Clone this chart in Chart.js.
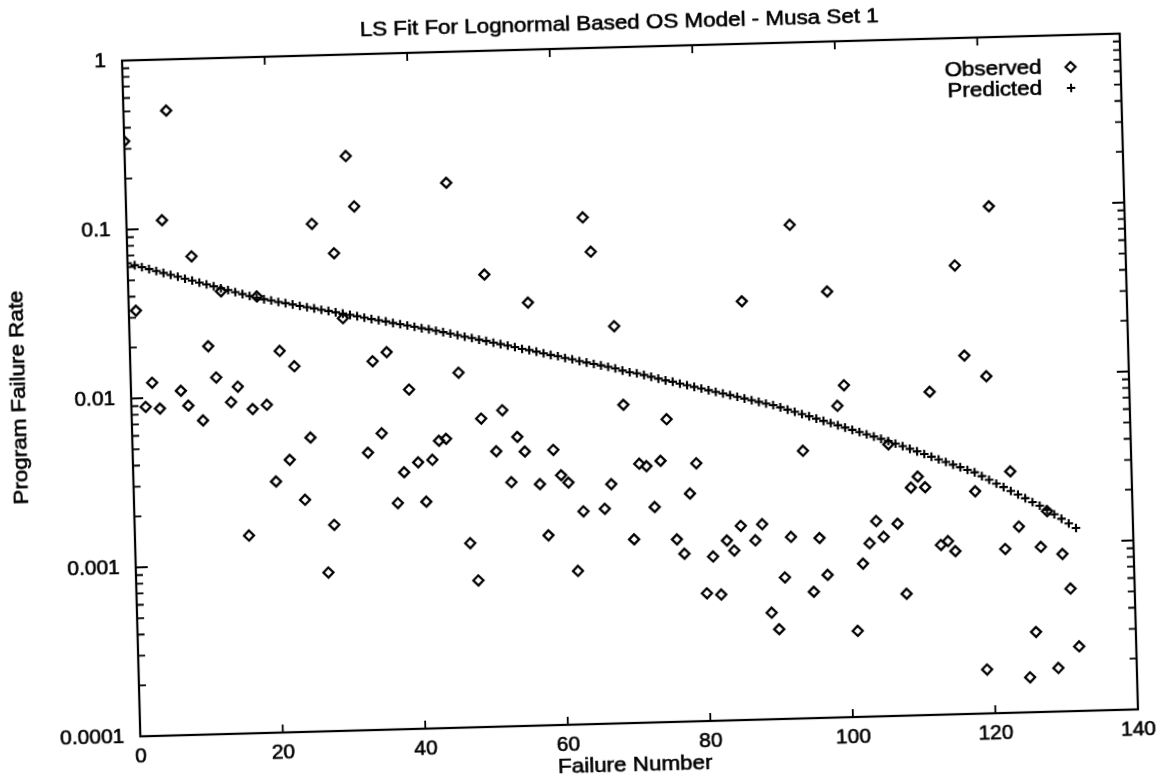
<!DOCTYPE html>
<html>
<head>
<meta charset="utf-8">
<script src="https://cdn.jsdelivr.net/npm/chart.js@4.4.1/dist/chart.umd.min.js"></script>
<style>
html, body { margin: 0; padding: 0; background: #ffffff; overflow: hidden; }
#wrap { position: absolute; left: 0; top: 0; width: 1165px; height: 781px;
        transform: rotate(-1.55deg); transform-origin: 630px 385px; }
canvas { display: block; }
</style>
</head>
<body>
<div id="wrap"><canvas id="c" width="1165" height="781"></canvas></div>
<script>
// ---- data ----
const failureNumbers = [
  0,1,2,3,4,5,6,7,8,9,10,11,12,13,14,15,16,17,18,19,
  20,21,22,23,24,25,26,27,28,29,30,31,32,33,34,35,36,37,38,39,
  40,41,42,43,44,45,46,47,48,49,50,51,52,53,54,55,56,57,58,59,
  60,61,62,63,64,65,66,67,68,69,70,71,72,73,74,75,76,77,78,79,
  80,81,82,83,84,85,86,87,88,89,90,91,92,93,94,95,96,97,98,99,
  100,101,102,103,104,105,106,107,108,109,110,111,112,113,114,115,116,117,118,119,
  120,121,122,123,124,125,126,127,128,129,130,131,132
];
const observedRate = [
  0.333,0.033,0.00887,0.0123,0.00863,0.112,0.498,0.0109,0.00889,0.0678,
  0.00722,0.0198,0.0129,0.0416,0.00918,0.0113,0.00148,0.00828,0.0383,0.00873,
  0.00306,0.0181,0.00409,0.0146,0.00236,0.0055,0.101,0.000869,0.00166,0.0671,
  0.0276,0.251,0.126,0.00438,0.0152,0.00568,0.0171,0.00218,0.00331,0.0102,
  0.00377,0.0022,0.00388,0.00502,0.00514,0.168,0.0126,0.00123,0.000738,0.00669,
  0.0475,0.00426,0.00743,0.00278,0.00514,0.0042,0.0319,0.00268,0.00133,0.00425,
  0.003,0.00271,0.00081,0.00182,0.0997,0.0623,0.00187,0.00261,0.0224,0.00766,
  0.00122,0.00341,0.00329,0.00188,0.00352,0.00619,0.0012,0.000984,0.00223,0.00336,
  0.00057,0.000938,0.000557,0.00116,0.00101,0.00141,0.03,0.00115,0.00143,0.000427,
  0.00034,0.000687,0.00119,0.0835,0.00383,0.000559,0.00116,0.0007,0.0332,0.00697,
  0.00921,0.000323,0.000806,0.00106,0.00143,0.00115,0.00405,0.00137,0.000526,0.00223,
  0.00258,0.00223,0.00816,0.00101,0.00106,0.000923,0.0452,0.0132,0.00207,0.000182,
  0.00988,0.0999,0.000934,0.00268,0.00126,0.000161,0.000298,0.000947,0.00154,0.000181,
  0.000854,0.000531,0.000241
];
const predictedRate = [
  0.0631,0.0613,0.0596,0.0579,0.0562,0.0546,0.0531,0.0516,0.0501,0.0487,
  0.0473,0.046,0.0447,0.0434,0.0422,0.041,0.0398,0.0387,0.0376,0.0368,
  0.0361,0.0353,0.0346,0.0339,0.0332,0.0325,0.0319,0.0312,0.0306,0.03,
  0.0294,0.0288,0.0282,0.0276,0.027,0.0265,0.026,0.0254,0.0249,0.0244,
  0.0239,0.0234,0.023,0.0225,0.022,0.0215,0.021,0.0205,0.0201,0.0196,
  0.0192,0.0187,0.0183,0.0179,0.0175,0.017,0.0167,0.0163,0.0159,0.0155,
  0.0152,0.0148,0.0145,0.0141,0.0138,0.0135,0.0132,0.0129,0.0126,0.0122,
  0.0119,0.0117,0.0114,0.0111,0.0108,0.0105,0.0103,0.01,0.00976,0.00952,
  0.00928,0.00905,0.00882,0.0086,0.00839,0.00818,0.00797,0.00777,0.00758,0.00739,
  0.00721,0.00698,0.00675,0.00653,0.00631,0.00611,0.00591,0.00571,0.00553,0.00535,
  0.00517,0.005,0.00484,0.00468,0.00453,0.00438,0.00424,0.00408,0.00393,0.00378,
  0.00364,0.0035,0.00337,0.00324,0.00312,0.003,0.00289,0.00278,0.00268,0.00254,
  0.00241,0.00228,0.00217,0.00205,0.00195,0.00185,0.00175,0.00166,0.00157,0.00147,
  0.00138,0.00129,0.00121
];
const xTickValues = [0, 20, 40, 60, 80, 100, 120, 140];
const yTickValues = [0.0001, 0.001, 0.01, 0.1, 1];
const yTickLabels = ['0.0001', '0.001', '0.01', '0.1', '1'];
const yMinorMultipliers = [2, 3, 4, 5, 6, 7, 8, 9];
const chartTitle = 'LS Fit For Lognormal Based OS Model - Musa Set 1';
const xAxisTitle = 'Failure Number';
const yAxisTitle = 'Program Failure Rate';
const seriesNames = ['Observed', 'Predicted'];

// ---- drawing ----
const FONT_FAMILY = '"Liberation Sans", Arial, Helvetica, sans-serif';
const TEXT_FONT = '20px ' + FONT_FAMILY;
const STRETCH = 1.12;

function stretchedText(ctx, text, x, y, rot, align) {
  ctx.save();
  ctx.translate(x, y);
  ctx.rotate(rot);
  ctx.scale(STRETCH, 1);
  ctx.font = TEXT_FONT;
  ctx.fillStyle = '#000';
  ctx.strokeStyle = '#000';
  ctx.lineWidth = 0.6;
  ctx.textAlign = align;
  ctx.textBaseline = 'middle';
  ctx.fillText(text, 0, 0);
  ctx.strokeText(text, 0, 0);
  ctx.restore();
}

const framePlugin = {
  id: 'gnuframe',
  afterDraw(chart) {
    const ctx = chart.ctx;
    const a = chart.chartArea;
    const xs = chart.scales.x, ys = chart.scales.y;
    ctx.save();
    ctx.strokeStyle = '#000';
    ctx.lineWidth = 2.2;
    ctx.strokeRect(a.left, a.top, a.right - a.left, a.bottom - a.top);

    ctx.lineWidth = 1.8;
    ctx.beginPath();
    xTickValues.forEach(v => {
      const px = xs.getPixelForValue(v);
      ctx.moveTo(px, a.bottom); ctx.lineTo(px, a.bottom - 8);
      ctx.moveTo(px, a.top); ctx.lineTo(px, a.top + 8);
    });
    yTickValues.forEach((v, i) => {
      const py = ys.getPixelForValue(v);
      ctx.moveTo(a.left, py); ctx.lineTo(a.left + 12, py);
      ctx.moveTo(a.right, py); ctx.lineTo(a.right - 12, py);
      if (i < yTickValues.length - 1) {
        yMinorMultipliers.forEach(m => {
          const pm = ys.getPixelForValue(v * m);
          ctx.moveTo(a.left, pm); ctx.lineTo(a.left + 7, pm);
          ctx.moveTo(a.right, pm); ctx.lineTo(a.right - 7, pm);
        });
      }
    });
    ctx.stroke();

    // titles
    stretchedText(ctx, chartTitle, 629, 23.5, 0, 'center');
    stretchedText(ctx, xAxisTitle, 625, 765, 0, 'center');
    stretchedText(ctx, yAxisTitle, 19, 381, -Math.PI / 2, 'center');

    // legend (text then symbol, gnuplot style)
    stretchedText(ctx, seriesNames[0], 1050, 79, 0, 'right');
    stretchedText(ctx, seriesNames[1], 1050, 100, 0, 'right');
    ctx.lineWidth = 2.2;
    ctx.beginPath();
    const dx = 1079, dy = 79, r = 5;
    ctx.moveTo(dx - r, dy); ctx.lineTo(dx, dy - r); ctx.lineTo(dx + r, dy); ctx.lineTo(dx, dy + r); ctx.closePath();
    ctx.stroke();
    ctx.lineWidth = 2;
    ctx.beginPath();
    ctx.moveTo(1079 - 4.2, 100); ctx.lineTo(1079 + 4.2, 100);
    ctx.moveTo(1079, 100 - 4.2); ctx.lineTo(1079, 100 + 4.2);
    ctx.stroke();
    ctx.restore();
  }
};

new Chart(document.getElementById('c'), {
  type: 'scatter',
  data: {
    datasets: [
      {
        label: seriesNames[0],
        data: failureNumbers.map((n, i) => ({ x: n, y: observedRate[i] })),
        pointStyle: 'rectRot',
        pointRadius: 5,
        pointBorderWidth: 2.3,
        borderColor: '#000',
        backgroundColor: 'rgba(0,0,0,0)',
        order: 1
      },
      {
        label: seriesNames[1],
        data: failureNumbers.map((n, i) => ({ x: n, y: predictedRate[i] })),
        pointStyle: 'cross',
        pointRadius: 4.3,
        pointBorderWidth: 2.1,
        borderColor: '#000',
        backgroundColor: '#000',
        order: 2
      }
    ]
  },
  options: {
    responsive: false,
    animation: false,
    devicePixelRatio: 1,
    layout: { padding: { left: 0, right: 36, top: 47, bottom: 0 } },
    plugins: {
      legend: { display: false },
      title: { display: false },
      tooltip: { enabled: false }
    },
    scales: {
      x: {
        type: 'linear',
        min: 0, max: 140,
        afterBuildTicks: s => { s.ticks = xTickValues.map(v => ({ value: v })); },
        afterFit: s => { s.height = 58; },
        ticks: {
          color: '#000',
          font: { family: FONT_FAMILY, size: 21 },
          textStrokeColor: '#000',
          textStrokeWidth: 0.6,
          padding: 8,
          maxRotation: 0,
          autoSkip: false,
          callback: v => String(v)
        },
        grid: { display: false, drawTicks: false },
        border: { display: false }
      },
      y: {
        type: 'logarithmic',
        min: 0.0001, max: 1,
        afterBuildTicks: s => { s.ticks = yTickValues.map(v => ({ value: v })); },
        afterFit: s => { s.width = 131; },
        ticks: {
          color: '#000',
          font: { family: FONT_FAMILY, size: 21 },
          textStrokeColor: '#000',
          textStrokeWidth: 0.6,
          padding: 16,
          autoSkip: false,
          callback: (v, i) => yTickLabels[i]
        },
        grid: { display: false, drawTicks: false },
        border: { display: false }
      }
    }
  },
  plugins: [framePlugin]
});
</script>
</body>
</html>
